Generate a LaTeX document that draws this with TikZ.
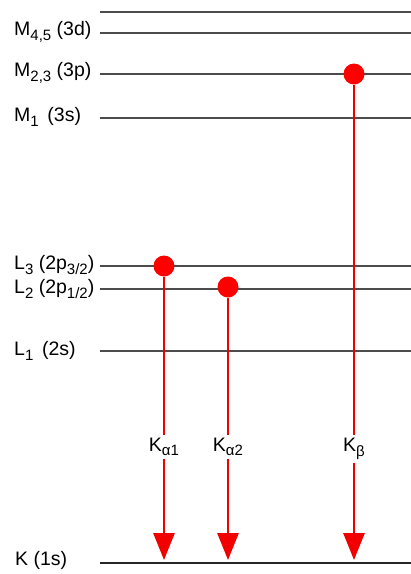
\documentclass[tikz,border=0pt]{standalone}
\usepackage{fontspec}
\setmainfont{Liberation Sans}
\usetikzlibrary{arrows.meta, positioning}

\newcommand{\dn}[1]{\raisebox{-0.45ex}{\fontsize{15}{16}\selectfont #1}}

\begin{document}
\begin{tikzpicture}[
x=1pt, y=-1pt,
lbl/.style={anchor=west, inner sep=0pt, font=\fontsize{19.5}{21}\selectfont},
level/.style={draw=black!70, line width=1.6pt},
dot/.style={circle, fill=red, draw=none, minimum size=21pt, inner sep=0pt},
xray/.style={color=red!95!black, line width=2.8pt},
ray/.style={xray, -{Triangle[width=21pt, length=27pt]}},
line/.style={fill=white, inner sep=3pt, font=\fontsize{19.5}{21}\selectfont}
]
\useasboundingbox (0,0) rectangle (411,574);

% energy levels
\coordinate (top0) at (100,12);
\coordinate (top1) at (411,12);
\node[lbl] (m45) at (14,32) {M\dn{4,5} (3d)};
\node[lbl] (m23) at (14,73) {M\dn{2,3} (3p)};
\node[lbl] (m1) at (14,117) {M\dn{1} \,(3s)};
\node[lbl] (l3) at (14,265) {L\dn{3} (2p\dn{3/2})};
\node[lbl] (l2) at (14,289) {L\dn{2} (2p\dn{1/2})};
\node[lbl] (l1) at (14,351) {L\dn{1} \,(2s)};
\node[lbl] (k) at (15,560) {K (1s)};

\draw[level] (top0) -- (top1);
\draw[level] (100,33) coordinate (m45a) -- (411,33) coordinate (m45b);
\draw[level] (100,74) coordinate (m23a) -- (411,74) coordinate (m23b);
\draw[level] (100,118) coordinate (m1a) -- (411,118) coordinate (m1b);
\draw[level] (100,266) coordinate (l3a) -- (411,266) coordinate (l3b);
\draw[level] (100,289) coordinate (l2a) -- (411,289) coordinate (l2b);
\draw[level] (100,351) coordinate (l1a) -- (411,351) coordinate (l1b);
\draw[level, draw=black!85] (100,563) coordinate (ka) -- (411,563) coordinate (kb);

% transitions
\node[dot] (d1) at (164,266) {};
\node[dot] (d2) at (228,287) {};
\node[dot] (d3) at (354,74) {};

\node[line] (ka1) at (164,447) {K\dn{α1}};
\node[line] (ka2) at (228,447) {K\dn{α2}};
\node[line] (kb1) at (354,449) {K\dn{β}};

\coordinate (t1) at (164,560);
\coordinate (t2) at (228,560);
\coordinate (t3) at (354,560);

\draw[xray] (d1) -- (ka1);
\draw[ray] (ka1) -- (t1);
\draw[xray] (d2) -- (ka2);
\draw[ray] (ka2) -- (t2);
\draw[xray] (d3) -- (kb1);
\draw[ray] (kb1) -- (t3);

\end{tikzpicture}
\end{document}
